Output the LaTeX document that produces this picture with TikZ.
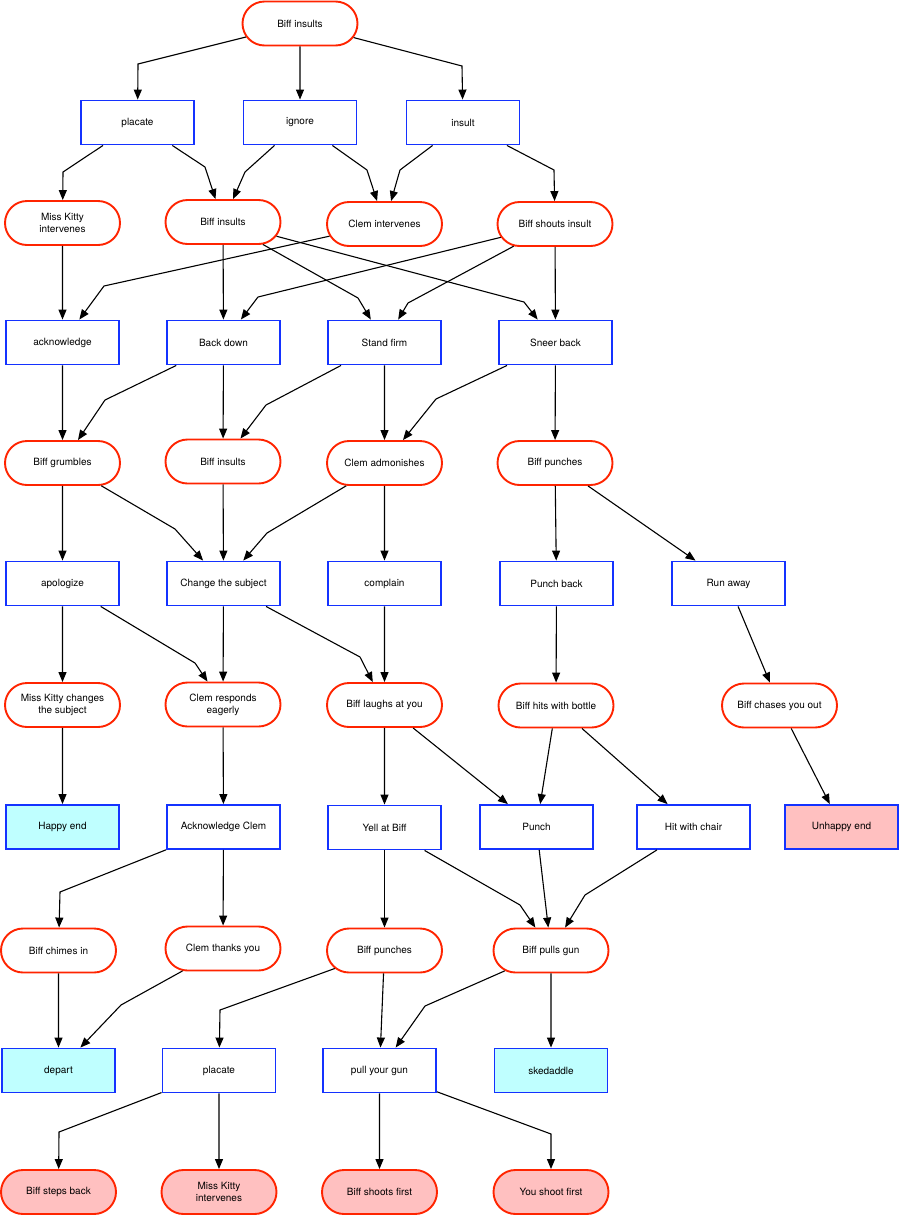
\documentclass[tikz,border=0pt]{standalone}
\usepackage{fontspec}
\setmainfont{TeX Gyre Heros}
\usetikzlibrary{arrows.meta,shapes.misc}
\definecolor{nred}{RGB}{255,36,0}
\definecolor{nblue}{RGB}{20,50,255}
\definecolor{cfill}{RGB}{191,255,255}
\definecolor{pfill}{RGB}{255,192,192}
\begin{document}
\begin{tikzpicture}[x=1pt,y=-1pt,
  base/.style={minimum height=44pt, inner sep=2pt, align=center,
    font=\fontsize{10}{12}\selectfont, line width=1.9pt, fill=white},
  ev/.style={base, rounded rectangle, minimum width=119pt, draw=nred},
  ac/.style={base, rectangle, minimum width=113pt, draw=nblue},
  good/.style={fill=cfill},
  bad/.style={fill=pfill},
  ed/.style={-{Triangle[length=10pt,width=8pt]}, line width=1.1pt, black}]
\useasboundingbox (0,0) rectangle (900,1216);
% row 1
\node[ev] (t) at (300,23.5) {Biff insults};
% row 2
\node[ac] (pl1) at (137.5,122.5) {placate};
\node[ac] (ig) at (300,122.5) {ignore};
\node[ac] (in) at (463,122.5) {insult};
% row 3
\node[ev] (mk1) at (62.5,223) {Miss Kitty\\intervenes};
\node[ev] (bi3) at (223,222) {Biff insults};
\node[ev] (ci) at (384.5,224) {Clem intervenes};
\node[ev] (bs) at (555,224) {Biff shouts insult};
% row 4
\node[ac] (ak) at (62.5,342.5) {acknowledge};
\node[ac] (bd) at (223.5,342.5) {Back down};
\node[ac] (sf) at (384.5,342.5) {Stand firm};
\node[ac] (sb) at (555.5,342.5) {Sneer back};
% row 5
\node[ev] (bg) at (62.5,463) {Biff grumbles};
\node[ev] (bi5) at (223,461.5) {Biff insults};
\node[ev] (ca) at (384.5,463) {Clem admonishes};
\node[ev] (bp5) at (555,463) {Biff punches};
% row 6
\node[ac] (ap) at (62.5,583.5) {apologize};
\node[ac] (cs) at (223.5,583.5) {Change the subject};
\node[ac] (co) at (384.5,583.5) {complain};
\node[ac] (pb) at (556.5,583.5) {Punch back};
\node[ac] (ra) at (728.5,583.5) {Run away};
% row 7
\node[ev] (mkc) at (62.5,705) {Miss Kitty changes\\the subject};
\node[ev] (cr) at (223,704.5) {Clem responds\\eagerly};
\node[ev] (bl) at (384.5,705) {Biff laughs at you};
\node[ev] (bh) at (556,705.5) {Biff hits with bottle};
\node[ev] (bc) at (779.5,705.5) {Biff chases you out};
% row 8
\node[ac,good] (he) at (62.5,827) {Happy end};
\node[ac] (akc) at (223.5,827) {Acknowledge Clem};
\node[ac] (yb) at (384.5,827.5) {Yell at Biff};
\node[ac] (pu) at (536.5,827) {Punch};
\node[ac] (hc) at (693.5,827) {Hit with chair};
\node[ac,bad] (ue) at (841.5,827) {Unhappy end};
% row 9
\node[ev] (bci) at (58.5,950.5) {Biff chimes in};
\node[ev] (ct) at (223,948.5) {Clem thanks you};
\node[ev] (bp9) at (384.5,950.5) {Biff punches};
\node[ev] (bpg) at (551,950.5) {Biff pulls gun};
% row 10
\node[ac,good] (de) at (58.5,1070.5) {depart};
\node[ac] (pl10) at (219,1070.5) {placate};
\node[ac] (pyg) at (379.5,1070.5) {pull your gun};
\node[ac,good] (sk) at (551,1070.5) {skedaddle};
% row 11
\node[ev,bad] (bsb) at (58.5,1192) {Biff steps back};
\node[ev,bad] (mk11) at (219,1192) {Miss Kitty\\intervenes};
\node[ev,bad] (bsf) at (379.5,1192) {Biff shoots first};
\node[ev,bad] (ysf) at (551,1192) {You shoot first};
% edges row 1 -> 2
\draw[ed] (t) -- (138,64) -- (pl1);
\draw[ed] (t) -- (ig);
\draw[ed] (t) -- (462,66) -- (in);
% row 2 -> 3
\draw[ed] (pl1) -- (63,172) -- (mk1);
\draw[ed] (pl1) -- (205,167) -- (bi3);
\draw[ed] (ig) -- (245,172) -- (bi3);
\draw[ed] (ig) -- (367,170) -- (ci);
\draw[ed] (in) -- (400,170) -- (ci);
\draw[ed] (in) -- (554,170) -- (bs);
% row 3 -> 4
\draw[ed] (mk1) -- (ak);
\draw[ed] (ci) -- (104,286) -- (ak);
\draw[ed] (bi3) -- (bd);
\draw[ed] (bi3) -- (358,298) -- (sf);
\draw[ed] (bi3) -- (524,302) -- (sb);
\draw[ed] (bs) -- (258,297) -- (bd);
\draw[ed] (bs) -- (408,303) -- (sf);
\draw[ed] (bs) -- (sb);
% row 4 -> 5
\draw[ed] (ak) -- (bg);
\draw[ed] (bd) -- (105,400) -- (bg);
\draw[ed] (bd) -- (bi5);
\draw[ed] (sf) -- (266,405) -- (bi5);
\draw[ed] (sf) -- (ca);
\draw[ed] (sb) -- (436,399) -- (ca);
\draw[ed] (sb) -- (bp5);
% row 5 -> 6
\draw[ed] (bg) -- (ap);
\draw[ed] (bg) -- (175,529) -- (cs);
\draw[ed] (bi5) -- (cs);
\draw[ed] (ca) -- (267,533) -- (cs);
\draw[ed] (ca) -- (co);
\draw[ed] (bp5) -- (pb);
\draw[ed] (bp5) -- (ra);
% row 6 -> 7
\draw[ed] (ap) -- (mkc);
\draw[ed] (ap) -- (195,663) -- (cr);
\draw[ed] (cs) -- (cr);
\draw[ed] (cs) -- (360,657) -- (bl);
\draw[ed] (co) -- (bl);
\draw[ed] (pb) -- (bh);
\draw[ed] (ra) -- (bc);
% row 7 -> 8
\draw[ed] (mkc) -- (he);
\draw[ed] (cr) -- (akc);
\draw[ed] (bl) -- (yb);
\draw[ed] (bl) -- (pu);
\draw[ed] (bh) -- (pu);
\draw[ed] (bh) -- (hc);
\draw[ed] (bc) -- (ue);
% row 8 -> 9
\draw[ed] (akc) -- (60,892) -- (bci);
\draw[ed] (akc) -- (ct);
\draw[ed] (yb) -- (bp9);
\draw[ed] (yb) -- (520,905) -- (bpg);
\draw[ed] (pu) -- (bpg);
\draw[ed] (hc) -- (585,895) -- (bpg);
% row 9 -> 10
\draw[ed] (bci) -- (de);
\draw[ed] (ct) -- (121,1005) -- (de);
\draw[ed] (bp9) -- (220,1010) -- (pl10);
\draw[ed] (bp9) -- (pyg);
\draw[ed] (bpg) -- (425,1006) -- (pyg);
\draw[ed] (bpg) -- (sk);
% row 10 -> 11
\draw[ed] (pl10) -- (59,1132) -- (bsb);
\draw[ed] (pl10) -- (mk11);
\draw[ed] (pyg) -- (bsf);
\draw[ed] (pyg) -- (551,1134) -- (ysf);
\end{tikzpicture}
\end{document}
